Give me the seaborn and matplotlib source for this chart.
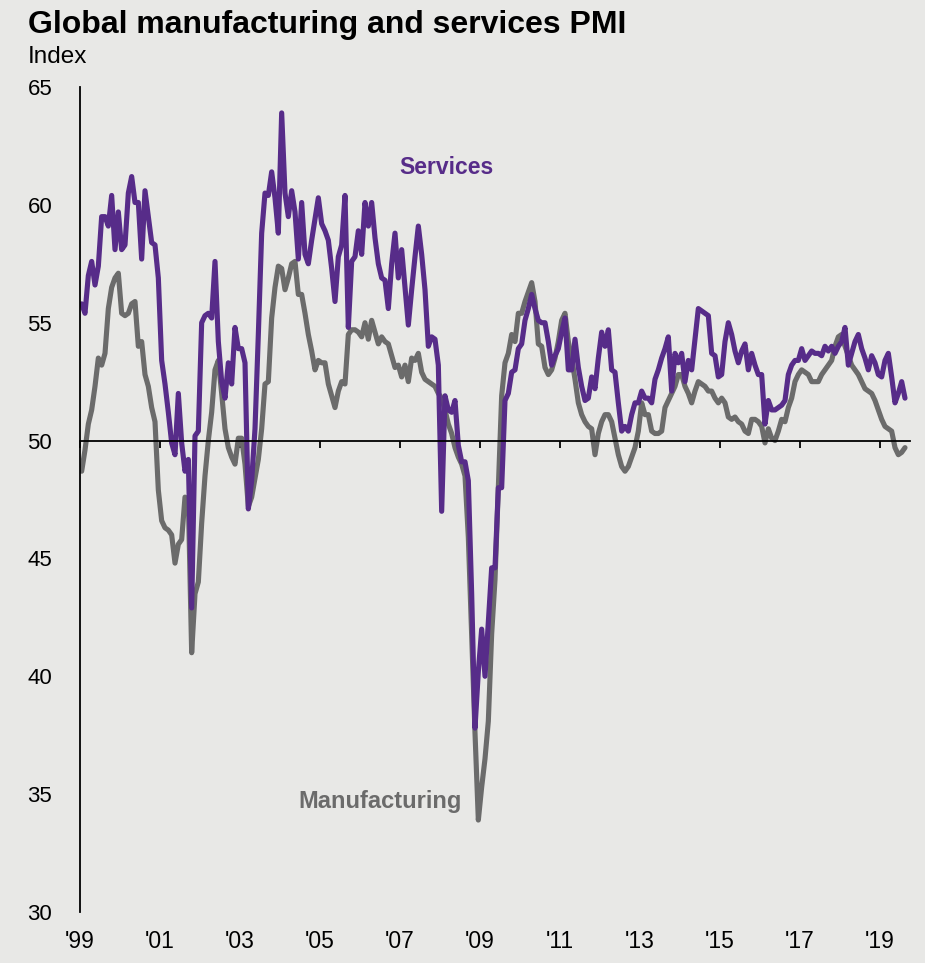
import numpy as np
import pandas as pd
import matplotlib
matplotlib.use("Agg")
import matplotlib.pyplot as plt
import seaborn as sns

# ---------------- data (monthly, Jan 1999 - Aug 2019) ----------------
start_year = 1999

services = [
    55.8, 55.4, 57.0, 57.6, 56.6, 57.4, 59.5, 59.5, 59.1, 60.4, 58.1, 59.7,  # 1999
    58.1, 58.3, 60.5, 61.2, 60.1, 60.1, 57.7, 60.6, 59.5, 58.4, 58.3, 56.9,  # 2000
    53.4, 52.4, 51.2, 49.9, 49.4, 52.0, 49.9, 48.7, 49.2, 42.9, 50.2, 50.4,  # 2001
    55.0, 55.3, 55.4, 55.2, 57.6, 54.2, 52.5, 51.8, 53.3, 52.4, 54.8, 53.9,  # 2002
    53.9, 53.3, 47.1, 48.3, 50.5, 54.5, 58.8, 60.5, 60.4, 61.4, 60.3, 58.8,  # 2003
    63.9, 60.5, 59.5, 60.6, 59.7, 57.7, 60.1, 57.9, 57.5, 58.5, 59.4, 60.3,  # 2004
    59.2, 58.9, 58.5, 57.3, 55.9, 57.8, 58.3, 60.4, 54.8, 57.6, 57.8, 58.9,  # 2005
    57.9, 60.1, 59.1, 60.1, 58.6, 57.5, 56.9, 56.8, 55.6, 57.5, 58.8, 56.9,  # 2006
    58.1, 56.5, 54.9, 56.4, 57.8, 59.1, 57.9, 56.4, 54.0, 54.4, 54.3, 53.2,  # 2007
    47.0, 51.9, 51.3, 51.2, 51.7, 49.8, 49.1, 49.1, 48.3, 43.5, 37.8, 40.2,  # 2008
    42.0, 40.0, 42.3, 44.6, 44.6, 48.0, 48.0, 51.7, 52.0, 52.9, 53.0, 53.9,  # 2009
    54.1, 55.1, 55.6, 56.2, 55.6, 55.1, 55.0, 55.0, 54.2, 53.2, 53.6, 53.9,  # 2010
    54.6, 55.2, 53.0, 53.0, 54.3, 53.1, 52.3, 51.7, 51.8, 52.7, 52.2, 53.5,  # 2011
    54.6, 54.0, 54.7, 53.0, 52.9, 51.6, 50.4, 50.6, 50.4, 51.1, 51.6, 51.6,  # 2012
    52.1, 51.8, 51.8, 51.6, 52.6, 53.0, 53.5, 53.9, 54.4, 52.1, 53.7, 53.3,  # 2013
    53.7, 52.5, 53.4, 53.0, 54.3, 55.6, 55.5, 55.4, 55.3, 53.7, 53.6, 52.7,  # 2014
    52.8, 54.2, 55.0, 54.5, 53.8, 53.3, 53.8, 54.1, 53.0, 53.7, 53.2, 52.8,  # 2015
    52.8, 50.7, 51.7, 51.3, 51.3, 51.4, 51.5, 51.7, 52.8, 53.2, 53.4, 53.4,  # 2016
    53.9, 53.4, 53.6, 53.8, 53.7, 53.7, 53.6, 54.0, 53.8, 54.0, 53.7, 54.0,  # 2017
    54.2, 54.8, 53.2, 53.7, 54.2, 54.5, 53.9, 53.5, 53.0, 53.6, 53.3, 52.8,  # 2018
    52.7, 53.4, 53.7, 52.7, 51.6, 52.0, 52.5, 51.8,                          # 2019
]

manufacturing = [
    48.7, 49.6, 50.7, 51.3, 52.3, 53.5, 53.2, 53.7, 55.6, 56.5, 56.9, 57.1,  # 1999
    55.4, 55.3, 55.4, 55.8, 55.9, 54.0, 54.2, 52.8, 52.3, 51.4, 50.8, 47.9,  # 2000
    46.6, 46.3, 46.2, 46.0, 44.8, 45.6, 45.8, 47.6, 47.5, 41.0, 43.5, 44.0,  # 2001
    46.5, 48.5, 50.0, 51.2, 53.0, 53.4, 52.0, 50.5, 49.7, 49.3, 49.0, 50.1,  # 2002
    50.1, 49.0, 47.2, 47.6, 48.4, 49.2, 50.5, 52.4, 52.5, 55.2, 56.5, 57.4,  # 2003
    57.3, 56.4, 56.9, 57.5, 57.6, 56.2, 56.2, 55.4, 54.5, 53.8, 53.0, 53.4,  # 2004
    53.3, 53.3, 52.4, 51.9, 51.4, 52.1, 52.5, 52.4, 54.5, 54.7, 54.7, 54.6,  # 2005
    54.4, 55.0, 54.3, 55.1, 54.6, 54.1, 54.4, 54.2, 54.1, 53.6, 53.1, 53.2,  # 2006
    52.7, 53.2, 52.5, 53.5, 53.4, 53.7, 52.9, 52.6, 52.5, 52.4, 52.3, 52.0,  # 2007
    51.8, 51.3, 50.7, 50.3, 49.7, 49.3, 49.0, 48.5, 45.9, 41.8, 37.6, 33.9,  # 2008
    35.3, 36.5, 38.1, 41.8, 44.1, 48.0, 51.9, 53.3, 53.7, 54.5, 54.2, 55.4,  # 2009
    55.4, 55.9, 56.3, 56.7, 55.9, 54.1, 54.0, 53.1, 52.8, 53.0, 53.5, 54.2,  # 2010
    55.1, 55.4, 54.2, 53.5, 52.6, 51.6, 51.1, 50.8, 50.6, 50.5, 49.4, 50.3,  # 2011
    50.8, 51.1, 51.1, 50.8, 50.1, 49.4, 48.9, 48.7, 48.9, 49.3, 49.7, 50.4,  # 2012
    51.6, 51.1, 51.1, 50.4, 50.3, 50.3, 50.4, 51.4, 51.7, 52.0, 52.3, 52.8,  # 2013
    52.8, 52.3, 52.0, 51.6, 52.1, 52.5, 52.4, 52.3, 52.1, 52.1, 51.8, 51.6,  # 2014
    51.8, 51.6, 51.0, 50.9, 51.0, 50.8, 50.7, 50.4, 50.3, 50.9, 50.9, 50.8,  # 2015
    50.6, 49.9, 50.5, 50.1, 50.0, 50.4, 50.9, 50.8, 51.4, 51.8, 52.5, 52.8,  # 2016
    53.0, 52.9, 52.8, 52.5, 52.5, 52.5, 52.8, 53.0, 53.2, 53.4, 54.0, 54.4,  # 2017
    54.5, 54.0, 53.6, 53.2, 53.0, 52.8, 52.5, 52.2, 52.1, 52.0, 51.7, 51.3,  # 2018
    50.9, 50.6, 50.5, 50.4, 49.7, 49.4, 49.5, 49.7,                          # 2019
]

year_ticks = [1999, 2001, 2003, 2005, 2007, 2009, 2011, 2013, 2015, 2017, 2019]
year_labels = ["'99", "'01", "'03", "'05", "'07", "'09", "'11", "'13", "'15", "'17", "'19"]
y_ticks = [30, 35, 40, 45, 50, 55, 60, 65]

title = "Global manufacturing and services PMI"
unit_label = "Index"

# ---------------- style ----------------
BG = "#e8e8e6"
PURPLE = "#572c89"
GRAY = "#6b6b6b"

sns.set_theme(style="white")
plt.rcParams["font.family"] = ["Liberation Sans", "DejaVu Sans"]

n = len(services)
dates = start_year + (np.arange(n) + 0.5) / 12.0
df = pd.DataFrame({
    "date": np.concatenate([dates, dates]),
    "value": manufacturing + services,
    "series": ["Manufacturing"] * n + ["Services"] * n,
})

W, H = 925, 963
fig = plt.figure(figsize=(W / 100, H / 100), dpi=100, facecolor=BG)
ax = fig.add_axes([80 / W, 1 - 912 / H, (910 - 80) / W, (912 - 87) / H])
ax.set_facecolor(BG)

sns.lineplot(data=df, x="date", y="value", hue="series",
             hue_order=["Manufacturing", "Services"],
             palette={"Services": PURPLE, "Manufacturing": GRAY},
             linewidth=3.7, legend=False, ax=ax)

ax.set_xlim(1999.0, 2019.75)
ax.set_ylim(30, 65)
ax.set_xlabel("")
ax.set_ylabel("")

for s in ["top", "right"]:
    ax.spines[s].set_visible(False)
ax.spines["left"].set_color("black")
ax.spines["left"].set_linewidth(1.3)
ax.spines["bottom"].set_position(("data", 50))
ax.spines["bottom"].set_color("black")
ax.spines["bottom"].set_linewidth(1.3)

ax.set_yticks(y_ticks)
ax.set_yticklabels([str(v) for v in y_ticks])
ax.tick_params(axis="y", direction="out", length=6, width=1.3, color="black",
               labelsize=16, pad=14, labelcolor="black")

# twin axis carries the year labels at the bottom of the plot
ax2 = ax.twiny()
ax2.set_xlim(ax.get_xlim())
ax2.set_xticks(year_ticks)
ax2.set_xticklabels(year_labels, family=["Liberation Sans Narrow", "Liberation Sans", "DejaVu Sans"])
ax2.xaxis.set_ticks_position("bottom")
ax2.xaxis.set_label_position("bottom")
ax2.tick_params(axis="x", length=0, pad=13, labelsize=16.5, labelcolor="black",
                labelbottom=True, labeltop=False)
for s in ax2.spines.values():
    s.set_visible(False)

ax.set_xticks(year_ticks)
ax.tick_params(axis="x", direction="out", length=5, width=1.3, color="black",
               labelbottom=False, labeltop=False, bottom=True, top=False)

ax.text(2008.15, 61.6, "Services", color=PURPLE, fontsize=16.5, fontweight="bold",
        ha="center", va="center")
ax.text(2006.5, 34.7, "Manufacturing", color=GRAY, fontsize=17, fontweight="bold",
        ha="center", va="center")

fig.text(28 / W, 1 - 33 / H, title, fontsize=23, fontweight="bold",
         ha="left", va="baseline", color="black")
fig.text(28 / W, 1 - 63 / H, unit_label, fontsize=17.5, ha="left", va="baseline", color="black")

fig.savefig("out.png", dpi=100, facecolor=BG)
